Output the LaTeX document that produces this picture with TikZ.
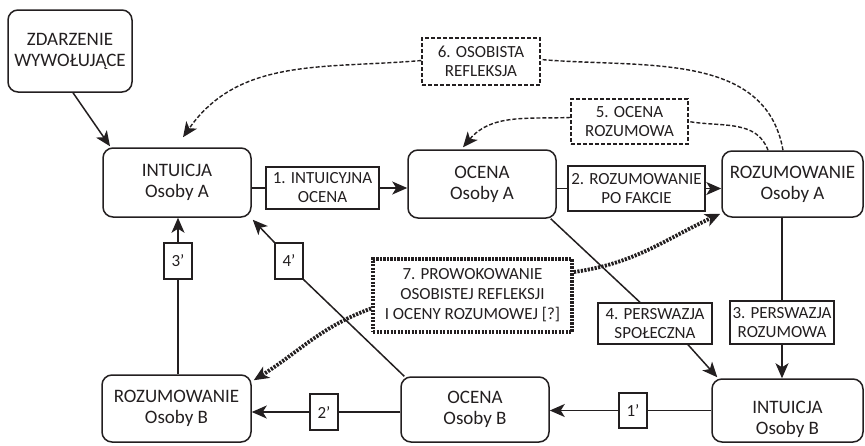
\documentclass[tikz,border=0pt]{standalone}
\usepackage{fontspec}
\setmainfont{Carlito}
\usetikzlibrary{arrows.meta,calc}
\definecolor{ink}{HTML}{231F20}
\begin{document}
\begin{tikzpicture}[x=1pt,y=1pt,
  every node/.style={text=ink},
  mainbox/.style={draw=ink,line width=1.5pt,rounded corners=10pt,inner sep=1pt,align=center,
     font=\fontsize{19}{21}\selectfont},
  maintext/.style={align=center,inner sep=0pt,font=\fontsize{19}{21}\selectfont},
  lab/.style={draw=ink,line width=1.4pt,inner sep=1pt,align=center,
     font=\fontsize{17}{19}\selectfont},
  dlab/.style={draw=ink,line width=1.3pt,dash pattern=on 4pt off 2pt,inner sep=1pt,align=center,
     font=\fontsize{17}{19}\selectfont},
  tlab/.style={draw=ink,line width=3.8pt,dash pattern=on 2.2pt off 1.3pt,inner sep=1pt,align=center,
     font=\fontsize{17}{20}\selectfont},
  conn/.style={draw=ink,line width=1.5pt},
  arr/.style={conn,-{Stealth[length=15pt,width=13pt,inset=4pt]}},
  darr/.style={draw=ink,line width=1.4pt,dash pattern=on 4pt off 2pt,-{Stealth[length=15pt,width=13pt,inset=4pt]}},
  dline/.style={draw=ink,line width=1.4pt,dash pattern=on 4pt off 2pt},
  tarr/.style={draw=ink,line width=3.8pt,dash pattern=on 2.2pt off 1.3pt,-{Stealth[length=15pt,width=13pt,inset=4pt]}}
]
\useasboundingbox (0,0) rectangle (865,-445);

% main boxes
\node[mainbox,minimum width=124pt,minimum height=82pt] (zd) at (70,-51) {ZDARZENIE\\WYWOŁUJĄCE};
\node[mainbox,minimum width=148pt,minimum height=69pt] (intA) at (177,-182.5) {INTUICJA\\Osoby A};
\node[mainbox,minimum width=148pt,minimum height=68pt] (ocA) at (482,-184) {OCENA\\Osoby A};
\node[mainbox,minimum width=141pt,minimum height=66pt] (rozA) at (792.5,-184) {ROZUMOWANIE\\Osoby A};
\node[mainbox,minimum width=151pt,minimum height=63pt] (intB) at (787.5,-410.5) {};
\node[maintext] (intBt) at (787.5,-419) {INTUICJA\\Osoby B};
\node[mainbox,minimum width=148pt,minimum height=65pt] (ocB) at (475,-409.5) {OCENA\\Osoby B};
\node[mainbox,minimum width=149pt,minimum height=67pt] (rozB) at (176.5,-408.5) {ROZUMOWANIE\\Osoby B};

% label boxes
\node[lab,minimum width=113pt,minimum height=42pt] (l1) at (322.5,-188) {1. INTUICYJNA\\OCENA};
\node[lab,minimum width=137pt,minimum height=45pt] (l2) at (636.5,-188.5) {2. ROZUMOWANIE\\PO FAKCIE};
\node[lab,minimum width=104pt,minimum height=43pt] (l3) at (782,-322.5) {3. PERSWAZJA\\ROZUMOWA};
\node[lab,minimum width=114pt,minimum height=41pt] (l4) at (655,-323.5) {4. PERSWAZJA\\SPOŁECZNA};
\node[lab,minimum width=28pt,minimum height=35pt] (l1p) at (633,-410.5) {1’};
\node[lab,minimum width=28pt,minimum height=36pt] (l2p) at (324,-412) {2’};
\node[lab,minimum width=28pt,minimum height=36pt] (l3p) at (178,-261) {3’};
\node[lab,minimum width=28pt,minimum height=36pt] (l4p) at (289,-261) {4’};
\node[dlab,minimum width=118pt,minimum height=47pt] (l6) at (481,-61.5) {6. OSOBISTA\\REFLEKSJA};
\node[dlab,minimum width=117pt,minimum height=45pt] (l5) at (629.5,-121.5) {5. OCENA\\ROZUMOWA};
\node[tlab,minimum width=199pt,minimum height=73pt] (l7) at (472.5,-295.5) {7. PROWOKOWANIE\\OSOBISTEJ REFLEKSJI\\I OCENY ROZUMOWEJ [?]};

% connectors
\draw[arr] ([xshift=3pt]zd.south) -- ([xshift=-67pt,yshift=1pt]intA.north);
\draw[conn] (l1.west -| intA.east) -- (l1.west);
\draw[arr] (l1.east) -- (l1.east -| ocA.west);
\draw[conn] (l2.west -| ocA.east) -- (l2.west);
\draw[arr] (l2.east) -- (l2.east -| rozA.west);
\draw[conn] (l3.north |- rozA.south) -- (l3.north);
\draw[arr] (l3.south) -- (l3.south |- intB.north);
\draw[conn] ([xshift=-6pt]ocA.south east) -- ([xshift=-15pt]l4.north);
\draw[arr] ([xshift=33pt]l4.south) -- ([xshift=6pt,yshift=1pt]intB.north west);
\draw[conn] (l1p.east -| intB.west) -- (l1p.east);
\draw[arr] (l1p.west) -- (l1p.west -| ocB.east);
\draw[conn] (l2p.east -| ocB.west) -- (l2p.east);
\draw[arr] (l2p.west) -- (l2p.west -| rozB.east);
\draw[conn] (l3p.south |- rozB.north) -- (l3p.south);
\draw[arr] (l3p.north) -- (l3p.north |- intA.south);
\draw[conn] ([xshift=4pt]ocB.north west) -- (l4p.south east);
\draw[arr] (l4p.north west) -- ([xshift=1pt,yshift=-2pt]intA.south east);

% dashed curves
\draw[dline] ([xshift=-9.5pt]rozA.north) to[out=100,in=-5] ([yshift=2pt]l6.east);
\draw[darr] ([yshift=1pt]l6.west) to[out=185,in=55] ([xshift=6pt,yshift=10pt]intA.north);
\draw[dline] ([xshift=-24.5pt]rozA.north) to[out=110,in=-10] (l5.east);
\draw[darr] ([yshift=4pt]l5.west) to[out=182,in=50] ([xshift=-19pt,yshift=2pt]ocA.north);

% thick dotted
\draw[tarr] ([yshift=-13pt]l7.west) to[out=200,in=32] ([xshift=2pt,yshift=-6pt]rozB.north east);
\draw[tarr] ([yshift=23.5pt]l7.east) to[out=8,in=205] ([xshift=-1pt,yshift=4pt]rozA.south west);
\end{tikzpicture}
\end{document}
